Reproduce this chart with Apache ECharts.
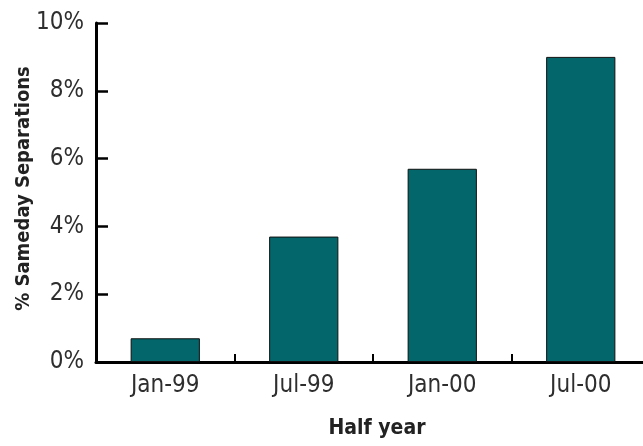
<!DOCTYPE html>
<html>
<head>
<meta charset="utf-8">
<script src="https://cdn.jsdelivr.net/npm/echarts@6/dist/echarts.min.js"></script>
<style>
  html, body { margin: 0; padding: 0; background: #ffffff; }
  #chart { width: 643px; height: 446px; }
</style>
</head>
<body>
<div id="chart"></div>
<script>
// Half-year periods and share of same-day separations (%)
const categories = ['Jan-99', 'Jul-99', 'Jan-00', 'Jul-00'];
const sharePct = [0.7, 3.7, 5.7, 9.0];
const yTicks = [0, 2, 4, 6, 8, 10];

const FONT = '"DejaVu Sans Condensed", "Liberation Sans Narrow", sans-serif';
const BAR_COLOR = '#02666a';

const chart = echarts.init(document.getElementById('chart'), null, { renderer: 'canvas' });

chart.setOption({
  animation: false,
  backgroundColor: '#ffffff',
  grid: { left: 96, top: 23, width: 554, bottom: 84, containLabel: false, outerBoundsMode: 'none' },
  xAxis: {
    type: 'category',
    data: categories,
    name: 'Half year',
    nameLocation: 'middle',
    nameGap: 56,
    nameMoveOverlap: false,
    nameTextStyle: { fontFamily: FONT, fontWeight: 'bold', fontSize: 21, color: '#222222', padding: [0, 0, 0, 8] },
    axisLine: { lineStyle: { color: '#000000', width: 3 } },
    axisTick: { show: true, alignWithLabel: false, inside: true, length: 8, lineStyle: { color: '#000000', width: 2 } },
    axisLabel: { fontFamily: FONT, fontSize: 24, color: '#2e2e2e', margin: 12 },
    splitLine: { show: false }
  },
  yAxis: {
    type: 'value',
    min: yTicks[0],
    max: yTicks[yTicks.length - 1],
    interval: 2,
    name: '% Sameday Separations',
    nameLocation: 'middle',
    nameGap: 62,
    nameMoveOverlap: false,
    nameRotate: 90,
    nameTextStyle: { fontFamily: FONT, fontWeight: 'bold', fontSize: 20, color: '#222222', padding: [0, 0, 0, 8] },
    axisLine: { show: true, lineStyle: { color: '#000000', width: 3 } },
    axisTick: { show: true, inside: true, length: 12, lineStyle: { color: '#000000', width: 2.5 } },
    axisLabel: { fontFamily: FONT, fontSize: 24, color: '#2e2e2e', margin: 12, formatter: v => v + '%' },
    splitLine: { show: false }
  },
  series: [{
    type: 'bar',
    data: sharePct,
    barWidth: '50%',
    itemStyle: { color: BAR_COLOR, borderColor: '#111111', borderWidth: 1 }
  }]
});
</script>
</body>
</html>
